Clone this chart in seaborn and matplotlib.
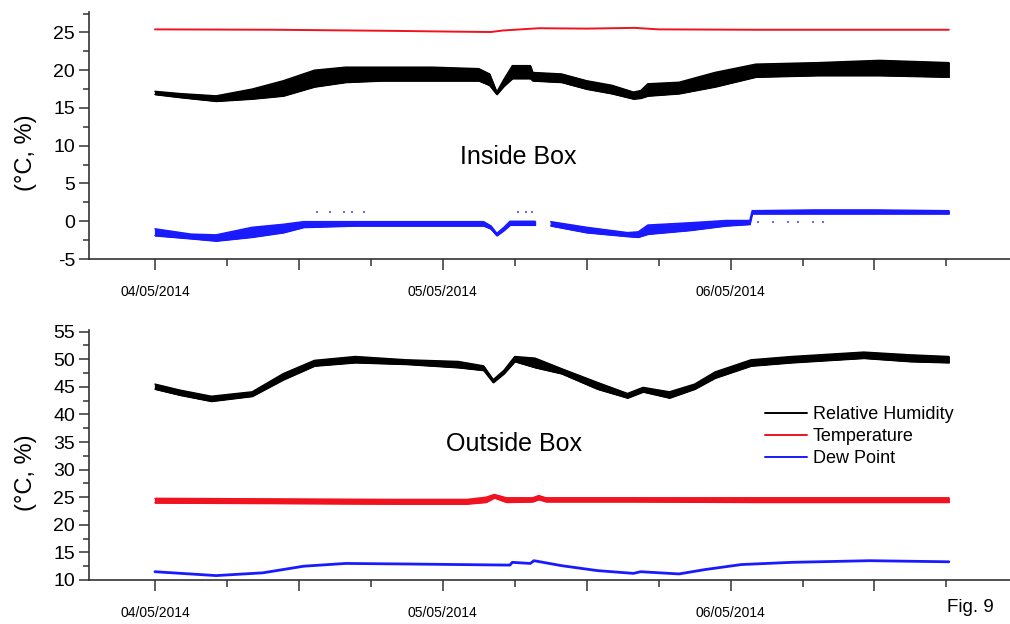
import numpy as np
import pandas as pd
import matplotlib
matplotlib.use("Agg")
import matplotlib.pyplot as plt
import seaborn as sns
from matplotlib.ticker import FixedLocator, MultipleLocator

# ---------------- data (hours since 04/05/2014 00:00) ----------------
# Inside box - relative humidity (noisy band: lower / upper envelope)
in_rh_h = [0, 2.1, 5.1, 8.1, 10.7, 13.3, 15.9, 18.9, 23.1, 27.0, 27.9, 28.5, 29.1, 29.8,
           31.3, 31.5, 33.9, 36.0, 38.1, 39.9, 40.5, 41.1, 43.7, 46.7, 50.1, 55.3, 60.4, 66.2]
in_rh_hi = [17.2, 16.9, 16.6, 17.5, 18.6, 20.0, 20.4, 20.4, 20.4, 20.2, 19.5, 17.1, 18.8, 20.6,
            20.6, 19.7, 19.5, 18.6, 18.0, 17.1, 17.3, 18.2, 18.4, 19.7, 20.8, 21.0, 21.3, 21.0]
in_rh_lo = [16.8, 16.4, 15.9, 16.2, 16.6, 17.8, 18.4, 18.6, 18.6, 18.6, 18.0, 16.8, 17.9, 18.9,
            18.9, 18.6, 18.4, 17.5, 16.9, 16.2, 16.3, 16.6, 16.9, 17.8, 19.1, 19.3, 19.3, 19.1]

# Inside box - temperature
in_t_h = [0, 10, 20, 25, 28, 29, 32, 36, 40, 42, 50, 66.2]
in_t_v = [25.4, 25.35, 25.2, 25.1, 25.05, 25.25, 25.55, 25.5, 25.6, 25.4, 25.35, 25.35]

# Inside box - dew point (band, two recorded stretches with a gap between them)
in_dp_h1 = [0, 3.0, 5.1, 8.1, 10.7, 12.4, 16.7, 27.4, 28.0, 28.5, 29.1, 29.6, 31.7]
in_dp_hi1 = [-1.0, -1.7, -1.8, -0.8, -0.4, -0.05, -0.05, -0.05, -0.6, -1.6, -0.8, 0.0, 0.0]
in_dp_lo1 = [-1.9, -2.3, -2.6, -2.1, -1.5, -0.8, -0.6, -0.6, -1.0, -1.9, -1.2, -0.5, -0.5]
in_dp_h2 = [33.0, 36.0, 39.4, 40.3, 41.1, 44.6, 47.6, 49.6, 49.8, 55.0, 60.0, 66.2]
in_dp_hi2 = [-0.05, -0.8, -1.5, -1.4, -0.5, -0.2, 0.1, 0.1, 1.4, 1.5, 1.5, 1.4]
in_dp_lo2 = [-0.6, -1.5, -2.0, -2.1, -1.7, -1.2, -0.6, -0.4, 1.0, 1.0, 1.0, 1.0]
# Inside box - isolated dew point readings
in_dp_pts_h = [13.5, 14.6, 15.8, 16.4, 17.4, 30.3, 30.9, 31.4, 50.3, 51.5, 52.8, 53.6, 54.9, 55.7]
in_dp_pts_v = [1.2, 1.2, 1.2, 1.25, 1.2, 1.2, 1.2, 1.2, -0.1, -0.1, -0.1, -0.1, -0.1, -0.1]

# Outside box - relative humidity (band)
out_rh_h = [0, 2.1, 4.7, 8.1, 10.7, 13.3, 16.7, 21.0, 25.3, 27.4, 28.2, 29.1, 30.0, 31.7,
            33.9, 36.9, 39.4, 40.7, 42.9, 45.0, 46.7, 49.7, 53.1, 59.1, 63.0, 66.2]
out_rh_hi = [45.5, 44.4, 43.3, 44.1, 47.4, 49.8, 50.5, 49.9, 49.6, 48.8, 46.3, 48.0, 50.5, 50.2,
             48.3, 45.8, 43.8, 44.9, 44.1, 45.5, 47.7, 49.9, 50.5, 51.3, 50.8, 50.5]
out_rh_lo = [44.6, 43.5, 42.4, 43.3, 46.3, 48.8, 49.4, 49.1, 48.5, 48.0, 45.8, 47.4, 49.6, 48.5,
             47.4, 44.6, 43.0, 44.1, 43.0, 44.6, 46.6, 48.8, 49.4, 50.2, 49.6, 49.4]

# Outside box - temperature (band)
out_t_h = [0, 10, 20, 26, 27.6, 28.3, 29.3, 31.5, 32.0, 32.6, 40, 50, 66.2]
out_t_hi = [24.8, 24.7, 24.6, 24.6, 25.0, 25.5, 24.9, 24.9, 25.3, 24.9, 24.9, 24.9, 24.9]
out_t_lo = [24.0, 23.9, 23.8, 23.8, 24.1, 24.9, 24.1, 24.2, 24.6, 24.2, 24.2, 24.1, 24.1]

# Outside box - dew point
out_dp_h = [0, 5.1, 9.0, 12.4, 15.9, 21.0, 25.3, 29.6, 29.8, 31.3, 31.6, 33.9, 36.9, 39.9,
            40.5, 43.7, 45.9, 48.9, 53.1, 59.6, 66.2]
out_dp_v = [11.5, 10.8, 11.3, 12.5, 13.0, 12.9, 12.8, 12.7, 13.2, 13.0, 13.5, 12.6, 11.7, 11.2,
            11.5, 11.1, 11.9, 12.8, 13.2, 13.5, 13.3]

major_ticks = [0, 12, 24, 36, 48, 60]
minor_ticks = [6, 18, 30, 42, 54, 66]
tick_labels = ["04/05/2014", "", "05/05/2014", "", "06/05/2014", ""]
series_names = ["Relative Humidity", "Temperature", "Dew Point"]

# ---------------- style ----------------
sns.set_style("ticks")
plt.rcParams["font.family"] = ["Liberation Sans", "DejaVu Sans"]
for key in ["text.color", "axes.labelcolor", "xtick.color", "ytick.color"]:
    plt.rcParams[key] = "black"

BLACK = "#000000"
RED = "#f0121e"
BLUE = "#1a1aff"
AXC = "#333333"

fig = plt.figure(figsize=(10.1, 6.24), dpi=100)
ax1 = fig.add_axes([89 / 1010, 1 - 259 / 624, 1 - 89 / 1010, (259 - 12) / 624])
ax2 = fig.add_axes([89 / 1010, 1 - 580 / 624, 1 - 89 / 1010, (580 - 330) / 624])


def band(ax, h, lo, hi, color):
    df = pd.DataFrame({"h": h, "lo": lo, "hi": hi})
    ax.fill_between(df["h"], df["lo"], df["hi"], color=color, linewidth=0.8,
                    edgecolor=color)
    sns.lineplot(data=df, x="h", y="lo", ax=ax, color=color, linewidth=1.0)
    sns.lineplot(data=df, x="h", y="hi", ax=ax, color=color, linewidth=1.0)


# top panel
band(ax1, in_rh_h, in_rh_lo, in_rh_hi, BLACK)
sns.lineplot(x=in_t_h, y=in_t_v, ax=ax1, color=RED, linewidth=1.4)
band(ax1, in_dp_h1, in_dp_lo1, in_dp_hi1, BLUE)
band(ax1, in_dp_h2, in_dp_lo2, in_dp_hi2, BLUE)
sns.scatterplot(x=in_dp_pts_h, y=in_dp_pts_v, ax=ax1, color="#6a6aff", s=3,
                linewidth=0, marker="s")

# bottom panel
band(ax2, out_rh_h, out_rh_lo, out_rh_hi, BLACK)
band(ax2, out_t_h, out_t_lo, out_t_hi, RED)
sns.lineplot(x=out_dp_h, y=out_dp_v, ax=ax2, color=BLUE, linewidth=2.0)

for ax, ylim, ymaj in [(ax1, (-5, 27.7), np.arange(-5, 26, 5)),
                       (ax2, (10, 55.3), np.arange(10, 56, 5))]:
    ax.set_xlim(-5.5, 71.3)
    ax.set_ylim(*ylim)
    ax.xaxis.set_major_locator(FixedLocator(major_ticks))
    ax.xaxis.set_minor_locator(FixedLocator(minor_ticks))
    ax.set_xticklabels(tick_labels)
    ax.yaxis.set_major_locator(FixedLocator(list(ymaj)))
    ax.yaxis.set_minor_locator(MultipleLocator(2.5))
    ax.set_yticklabels([str(int(v)) for v in ymaj])
    for s in ["top", "right"]:
        ax.spines[s].set_visible(False)
    for s in ["left", "bottom"]:
        ax.spines[s].set_color(AXC)
        ax.spines[s].set_linewidth(1.2)
    ax.tick_params(axis="x", which="major", length=8, width=1.1, color=AXC,
                   labelsize=10, pad=11, labelcolor="black")
    ax.tick_params(axis="x", which="minor", length=5, width=1.1, color=AXC)
    ax.tick_params(axis="y", which="major", length=7, width=1.1, color=AXC,
                   labelsize=14, pad=3, labelcolor="black")
    ax.tick_params(axis="y", which="minor", length=4, width=1.1, color=AXC)
    ax.set_xlabel("")
    ax.set_ylabel("(°C, %)", fontsize=17, color="black")
    ax.yaxis.set_label_coords(-0.057, 0.43)
    ax.patch.set_alpha(0)

fig.text(518 / 1010, 1 - 157 / 624, "Inside Box", fontsize=18, ha="center", va="center",
         color="black")
fig.text(514 / 1010, 1 - 444 / 624, "Outside Box", fontsize=18, ha="center", va="center",
         color="black")
fig.text(970 / 1010, 1 - 608 / 624, "Fig. 9", fontsize=13.5, ha="center", va="center",
         color="black")

handles = [plt.Line2D([], [], color=c, linewidth=1.4) for c in [BLACK, RED, BLUE]]
leg = fig.legend(handles, series_names, loc="upper left",
                 bbox_to_anchor=(765 / 1010, 1 - 406 / 624), frameon=False,
                 fontsize=13, borderpad=0, borderaxespad=0, handlelength=2.3,
                 handletextpad=0.35, labelspacing=0.28)
for t in leg.get_texts():
    t.set_color("black")

fig.savefig("out.png", dpi=100)
